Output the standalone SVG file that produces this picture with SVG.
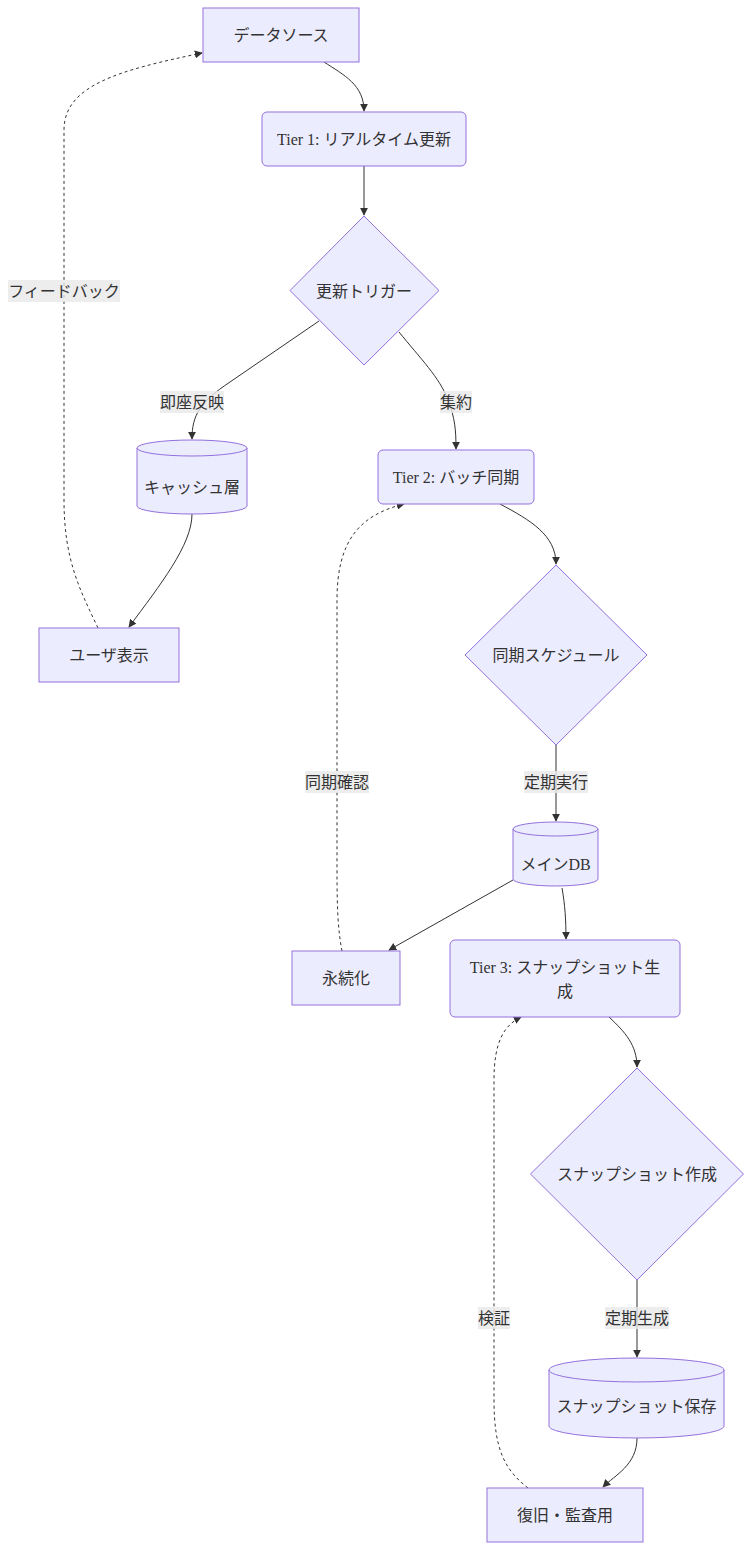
<svg xmlns="http://www.w3.org/2000/svg" width="752" height="1550" viewBox="0 0 752 1550">
<style>
.n{fill:#ECECFF;stroke:#9370DB;stroke-width:1}
.t{font-family:"Liberation Serif","Noto Sans CJK JP",sans-serif;font-size:16px;fill:#333;text-anchor:middle;dominant-baseline:central}
.e{fill:none;stroke:#333;stroke-width:1}
.d{stroke-dasharray:3 3}
.lb{fill:#e8e8e8;opacity:0.8}
</style>
<defs>
<marker id="arr" viewBox="0 0 10 10" refX="9" refY="5" markerWidth="8" markerHeight="8" markerUnits="userSpaceOnUse" orient="auto">
<path d="M0,0 L10,5 L0,10 z" fill="#333"/>
</marker>
</defs>
<rect width="752" height="1550" fill="#fff"/>
<g id="edges">
<path class="e" d="M324,62 C344,75 364,85 364,111" marker-end="url(#arr)"/>
<path class="e" d="M364,166 L364,215" marker-end="url(#arr)"/>
<path class="e" d="M319,321 L230,382 C200,402 192,415 192,439" marker-end="url(#arr)"/>
<path class="e" d="M399,332 C420,358 440,378 448,400 C455,418 456,430 456,449" marker-end="url(#arr)"/>
<path class="e" d="M192,514 C192,545 160,585 129,627" marker-end="url(#arr)"/>
<path class="e d" d="M98,628 C80,590 64,560 64,500 L64,130 C64,85 120,70 202,53" marker-end="url(#arr)"/>
<path class="e" d="M500,504 C530,520 556,535 556,564" marker-end="url(#arr)"/>
<path class="e" d="M556,745 L556,821" marker-end="url(#arr)"/>
<path class="e" d="M513,880 L389,950" marker-end="url(#arr)"/>
<path class="e" d="M562,888 C565,905 566,920 566,939" marker-end="url(#arr)"/>
<path class="e d" d="M342,951 C338,930 337,910 337,870 L337,600 C337,540 360,515 404,504" marker-end="url(#arr)"/>
<path class="e" d="M609,1017 C625,1032 637,1045 637,1067" marker-end="url(#arr)"/>
<path class="e" d="M637,1280 L637,1357" marker-end="url(#arr)"/>
<path class="e" d="M637,1438 C637,1465 615,1475 603,1487" marker-end="url(#arr)"/>
<path class="e d" d="M528,1488 C505,1470 494,1450 494,1400 L494,1080 C494,1040 505,1025 521,1017" marker-end="url(#arr)"/>
<g id="edge-labels">
<rect class="lb" x="8" y="280" width="112" height="22"/><text class="t" x="64" y="291">フィードバック</text>
<rect class="lb" x="160" y="391" width="64" height="22"/><text class="t" x="192" y="402">即座反映</text>
<rect class="lb" x="440" y="391" width="32" height="22"/><text class="t" x="456" y="402">集約</text>
<rect class="lb" x="305" y="771" width="64" height="22"/><text class="t" x="337" y="782">同期確認</text>
<rect class="lb" x="524" y="771" width="64" height="22"/><text class="t" x="556" y="782">定期実行</text>
<rect class="lb" x="605" y="1307" width="64" height="22"/><text class="t" x="637" y="1318">定期生成</text>
<rect class="lb" x="478" y="1307" width="32" height="22"/><text class="t" x="494" y="1318">検証</text>
</g>
</g>
<g id="n-datasource"><rect class="n" x="203" y="8" width="156" height="54"/><text class="t" x="281" y="35">データソース</text></g>
<g id="n-tier1"><rect class="n" x="262" y="112" width="204" height="54" rx="5"/><text class="t" x="364" y="139">Tier 1: リアルタイム更新</text></g>
<g id="n-trigger"><polygon class="n" points="364,216 439,290.5 364,365 290,290.5"/><text class="t" x="364" y="291">更新トリガー</text></g>
<g id="n-cache"><path class="n" d="M137,448 a55,8 0 0 0 110,0 a55,8 0 0 0 -110,0 l0,58 a55,8 0 0 0 110,0 l0,-58"/><text class="t" x="192" y="487">キャッシュ層</text></g>
<g id="n-tier2"><rect class="n" x="378" y="450" width="156" height="54" rx="5"/><text class="t" x="456" y="477">Tier 2: バッチ同期</text></g>
<g id="n-user"><rect class="n" x="39" y="628" width="140" height="54"/><text class="t" x="109" y="655">ユーザ表示</text></g>
<g id="n-schedule"><polygon class="n" points="556,565 647,655 556,745 465,655"/><text class="t" x="556" y="655">同期スケジュール</text></g>
<g id="n-maindb"><path class="n" d="M513,829 a42.5,7 0 0 0 85,0 a42.5,7 0 0 0 -85,0 l0,50 a42.5,7 0 0 0 85,0 l0,-50"/><text class="t" x="555.5" y="864">メインDB</text></g>
<g id="n-persist"><rect class="n" x="292" y="951" width="108" height="54"/><text class="t" x="346" y="978">永続化</text></g>
<g id="n-tier3"><rect class="n" x="450" y="940" width="230" height="77" rx="5"/><text class="t" x="565" y="967">Tier 3: スナップショット生</text><text class="t" x="565" y="991">成</text></g>
<g id="n-snapcreate"><polygon class="n" points="637,1068 743.5,1174 637,1280 530.5,1174"/><text class="t" x="637" y="1174">スナップショット作成</text></g>
<g id="n-snapstore"><path class="n" d="M549,1370 a87.5,12 0 0 0 175,0 a87.5,12 0 0 0 -175,0 l0,56 a87.5,12 0 0 0 175,0 l0,-56"/><text class="t" x="636.5" y="1406">スナップショット保存</text></g>
<g id="n-recovery"><rect class="n" x="487" y="1488" width="156" height="54"/><text class="t" x="565" y="1515">復旧・監査用</text></g>
</svg>
